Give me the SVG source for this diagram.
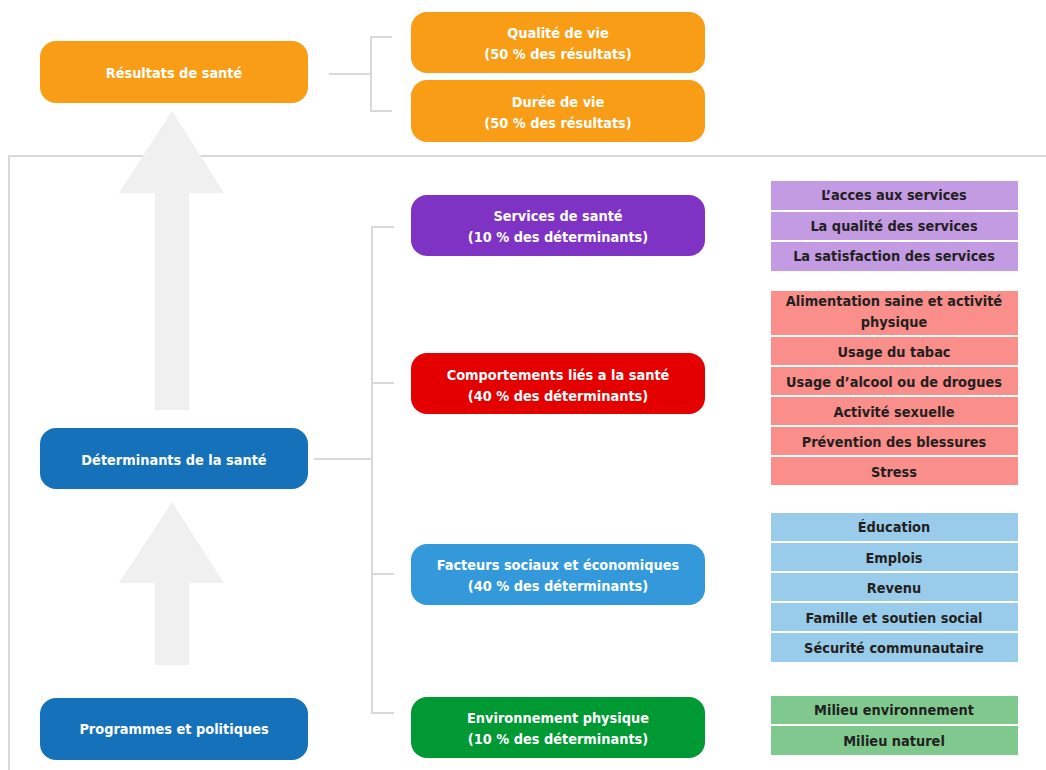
<svg xmlns="http://www.w3.org/2000/svg" width="1046" height="770" viewBox="0 0 1046 770">
<style>
text{font-family:"Liberation Sans Narrow","DejaVu Sans Condensed","Liberation Sans",sans-serif;font-weight:bold;font-size:14.4px;text-anchor:middle}
.w{fill:#ffffff}
.d{fill:#231f20}
.ln{stroke:#d9d9d9;stroke-width:2;fill:none}
.arr{fill:#f0f0f0}
</style>
<rect width="1046" height="770" fill="#ffffff"/>
<g id="frame">
<path class="ln" d="M1046 156 H9 V770"/>
</g>
<g id="arrows">
<polygon class="arr" points="172,111 224,193 189,193 189,410 155,410 155,193 119,193"/>
<polygon class="arr" points="172,502 224,583 189,583 189,665 155,665 155,583 119,583"/>
</g>
<g id="connectors">
<path class="ln" d="M329 74 H371 M392 37 H371 V111 H392"/>
<path class="ln" d="M314 459 H372 M394 227 H372 V713 H394 M372 383 H394 M372 574 H394"/>
</g>
<g id="n-resultats">
<rect x="40" y="41" width="268" height="62" rx="16" fill="#fa9d16"/>
<text class="w" x="174" y="78">Résultats de santé</text>
</g>
<g id="n-qualite">
<rect x="411" y="12" width="294" height="61" rx="16" fill="#fa9d16"/>
<text class="w" x="558" y="38">Qualité de vie</text>
<text class="w" x="558" y="59">(50 % des résultats)</text>
</g>
<g id="n-duree">
<rect x="411" y="80" width="294" height="62" rx="16" fill="#fa9d16"/>
<text class="w" x="558" y="107">Durée de vie</text>
<text class="w" x="558" y="128">(50 % des résultats)</text>
</g>
<g id="n-determinants">
<rect x="40" y="428" width="268" height="61" rx="16" fill="#1572ba"/>
<text class="w" x="174" y="465">Déterminants de la santé</text>
</g>
<g id="n-programmes">
<rect x="40" y="698" width="268" height="62" rx="16" fill="#1572ba"/>
<text class="w" x="174" y="734">Programmes et politiques</text>
</g>
<g id="n-services">
<rect x="411" y="195" width="294" height="61" rx="16" fill="#7e33c4"/>
<text class="w" x="558" y="221">Services de santé</text>
<text class="w" x="558" y="242">(10 % des déterminants)</text>
</g>
<g id="n-comportements">
<rect x="411" y="353" width="294" height="61" rx="16" fill="#e50000"/>
<text class="w" x="558" y="380">Comportements liés a la santé</text>
<text class="w" x="558" y="401">(40 % des déterminants)</text>
</g>
<g id="n-facteurs">
<rect x="411" y="544" width="294" height="61" rx="16" fill="#3399db"/>
<text class="w" x="558" y="570">Facteurs sociaux et économiques</text>
<text class="w" x="558" y="591">(40 % des déterminants)</text>
</g>
<g id="n-environnement">
<rect x="411" y="697" width="294" height="61" rx="16" fill="#009933"/>
<text class="w" x="558" y="723">Environnement physique</text>
<text class="w" x="558" y="744">(10 % des déterminants)</text>
</g>
<g id="list-services" fill="#c39be3">
<rect x="771" y="181" width="247" height="29"/>
<rect x="771" y="212" width="247" height="28"/>
<rect x="771" y="242" width="247" height="29"/>
<text class="d" x="894" y="200">L’acces aux services</text>
<text class="d" x="894" y="231">La qualité des services</text>
<text class="d" x="894" y="261">La satisfaction des services</text>
</g>
<g id="list-comportements" fill="#f98e8a">
<rect x="771" y="291" width="247" height="44"/>
<rect x="771" y="337" width="247" height="28"/>
<rect x="771" y="367" width="247" height="28"/>
<rect x="771" y="397" width="247" height="28"/>
<rect x="771" y="427" width="247" height="28"/>
<rect x="771" y="457" width="247" height="28"/>
<text class="d" x="894" y="306">Alimentation saine et activité</text>
<text class="d" x="894" y="327">physique</text>
<text class="d" x="894" y="357">Usage du tabac</text>
<text class="d" x="894" y="387">Usage d’alcool ou de drogues</text>
<text class="d" x="894" y="417">Activité sexuelle</text>
<text class="d" x="894" y="447">Prévention des blessures</text>
<text class="d" x="894" y="477">Stress</text>
</g>
<g id="list-facteurs" fill="#99cceb">
<rect x="771" y="513" width="247" height="28"/>
<rect x="771" y="543" width="247" height="28"/>
<rect x="771" y="573" width="247" height="28"/>
<rect x="771" y="603" width="247" height="28"/>
<rect x="771" y="633" width="247" height="29"/>
<text class="d" x="894" y="532">Éducation</text>
<text class="d" x="894" y="563">Emplois</text>
<text class="d" x="894" y="593">Revenu</text>
<text class="d" x="894" y="623">Famille et soutien social</text>
<text class="d" x="894" y="653">Sécurité communautaire</text>
</g>
<g id="list-environnement" fill="#7fc98f">
<rect x="771" y="696" width="247" height="28"/>
<rect x="771" y="726" width="247" height="29"/>
<text class="d" x="894" y="715">Milieu environnement</text>
<text class="d" x="894" y="746">Milieu naturel</text>
</g>
</svg>
